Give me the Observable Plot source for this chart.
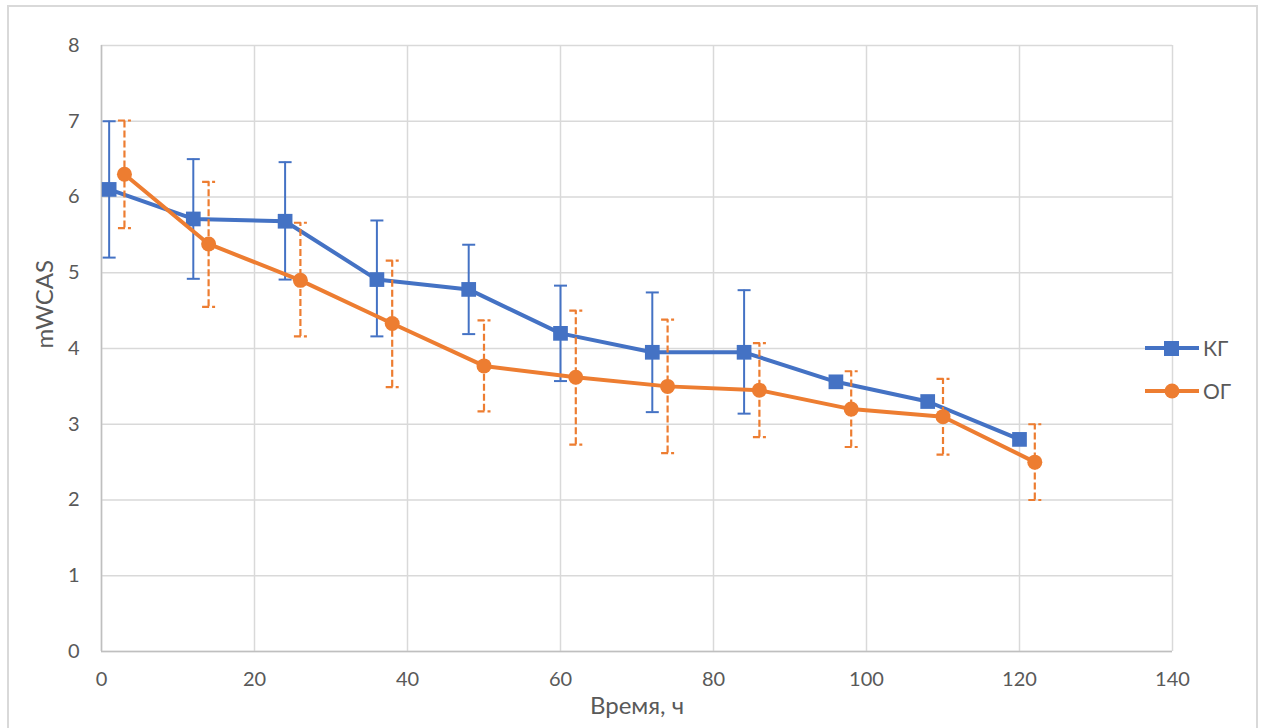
<!DOCTYPE html>
<html>
<head>
<meta charset="utf-8">
<script src="https://cdn.jsdelivr.net/npm/d3@7"></script>
<script src="https://cdn.jsdelivr.net/npm/@observablehq/plot@0.6"></script>
<style>
  body { margin: 0; background: #fff; }
  #wrap { position: relative; width: 1261px; height: 728px; overflow: hidden; font-family: Lato, "Open Sans", sans-serif; }
  #frame { position: absolute; left: 7px; top: 5px; width: 1247px; height: 760px; border: 2px solid #d9d9d9; pointer-events: none; }
  #legend { position: absolute; left: 1145px; top: 326px; color: #595959; font-size: 21px; }
  .item { display: flex; align-items: center; height: 43px; }
  .item span { margin-left: 4px; }
</style>
</head>
<body>
<div id="wrap"><div id="frame"></div><div id="chart"></div><div id="legend"></div></div>
<script>
const seriesNames = ["КГ", "ОГ"];
const colors = ["#4472C4", "#ED7D31"];

const timeKG = [1, 12, 24, 36, 48, 60, 72, 84, 96, 108, 120];
const meanKG = [6.1, 5.71, 5.68, 4.91, 4.78, 4.2, 3.95, 3.95, 3.56, 3.3, 2.8];
const lowKG  = [5.2, 4.92, 4.91, 4.16, 4.19, 3.57, 3.16, 3.14, null, null, null];
const highKG = [7.0, 6.5, 6.46, 5.69, 5.37, 4.83, 4.74, 4.77, null, null, null];

const timeOG = [3, 14, 26, 38, 50, 62, 74, 86, 98, 110, 122];
const meanOG = [6.3, 5.38, 4.9, 4.33, 3.77, 3.62, 3.5, 3.45, 3.2, 3.1, 2.5];
const lowOG  = [5.59, 4.55, 4.16, 3.49, 3.17, 2.73, 2.62, 2.83, 2.7, 2.6, 2.0];
const highOG = [7.01, 6.2, 5.66, 5.16, 4.37, 4.5, 4.38, 4.07, 3.7, 3.6, 3.0];

const xTicks = [0, 20, 40, 60, 80, 100, 120, 140];
const yTicks = [0, 1, 2, 3, 4, 5, 6, 7, 8];
const xTitle = "Время, ч";
const yTitle = "mWCAS";

const kg = timeKG.map((t, i) => ({t, m: meanKG[i], lo: lowKG[i], hi: highKG[i]}));
const og = timeOG.map((t, i) => ({t, m: meanOG[i], lo: lowOG[i], hi: highOG[i]}));
const kgErr = kg.filter(d => d.lo != null);
const ogErr = og.filter(d => d.lo != null);

const hbar = {draw(ctx, size) { const r = Math.sqrt(size / Math.PI); ctx.moveTo(-r, 0); ctx.lineTo(r, 0); }};

function errMarks(data, color, dash, width) {
  return [
    Plot.ruleX(data, {x: "t", y1: "lo", y2: "hi", stroke: color, strokeWidth: width, strokeDasharray: dash}),
    Plot.dot(data, {x: "t", y: "hi", symbol: hbar, r: 6.5, stroke: color, strokeWidth: width, strokeDasharray: dash, fill: "none"}),
    Plot.dot(data, {x: "t", y: "lo", symbol: hbar, r: 6.5, stroke: color, strokeWidth: width, strokeDasharray: dash, fill: "none"})
  ];
}

const chart = Plot.plot({
  width: 1261,
  height: 728,
  marginLeft: 101,
  marginRight: 89,
  marginTop: 45,
  marginBottom: 77,
  style: {fontFamily: "Lato, 'Open Sans', sans-serif", fontSize: "20px", color: "#595959", background: "transparent"},
  x: {domain: [0, 140]},
  y: {domain: [0, 8]},
  marks: [
    Plot.gridX(xTicks, {stroke: "#d9d9d9", strokeOpacity: 1, strokeWidth: 1.5}),
    Plot.gridY(yTicks, {stroke: "#d9d9d9", strokeOpacity: 1, strokeWidth: 1.5}),
    Plot.ruleY([0], {stroke: "#bfbfbf", strokeWidth: 1.5}),
    Plot.ruleX([0], {stroke: "#bfbfbf", strokeWidth: 1.5}),
    Plot.axisX(xTicks, {tickSize: 0, tickPadding: 20, tickFormat: d => String(d), label: null, fontSize: 20}),
    Plot.axisY(yTicks, {tickSize: 0, tickPadding: 22, tickFormat: d => String(d), label: null, fontSize: 20}),
    Plot.text([xTitle], {frameAnchor: "bottom", dy: 62, fontSize: 24, fill: "#595959"}),
    Plot.text([yTitle], {frameAnchor: "left", dx: -56, rotate: -90, fontSize: 24, fill: "#595959"}),
    ...errMarks(kgErr, colors[0], null, 2),
    Plot.line(kg, {x: "t", y: "m", stroke: colors[0], strokeWidth: 4}),
    Plot.dot(kg, {x: "t", y: "m", symbol: "square", r: 8.3, fill: colors[0]}),
    ...errMarks(ogErr, colors[1], "7,3", 2.2),
    Plot.line(og, {x: "t", y: "m", stroke: colors[1], strokeWidth: 4}),
    Plot.dot(og, {x: "t", y: "m", symbol: "circle", r: 7.5, fill: colors[1]})
  ]
});
document.getElementById("chart").appendChild(chart);

const legend = document.getElementById("legend");
seriesNames.forEach((name, i) => {
  const item = document.createElement("div");
  item.className = "item";
  const sym = i === 0
    ? `<rect x="19" y="6" width="15" height="15" fill="${colors[i]}"/>`
    : `<circle cx="27" cy="13" r="7.5" fill="${colors[i]}"/>`;
  item.innerHTML = `<svg width="54" height="26"><line x1="0" x2="54" y1="13" y2="13" stroke="${colors[i]}" stroke-width="4"/>${sym}</svg><span>${name}</span>`;
  legend.appendChild(item);
});
</script>
</body>
</html>
